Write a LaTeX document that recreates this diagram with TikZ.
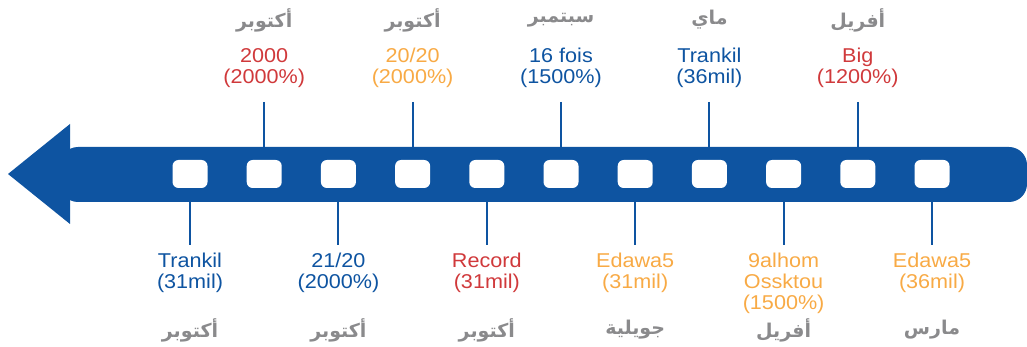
\documentclass[tikz,border=0pt]{standalone}
\usepackage{fontspec}
\setmainfont{Liberation Sans}
\newfontfamily\labfont[FakeStretch=1.08]{Liberation Sans}
\newfontfamily\arabicfont[Script=Arabic]{DejaVu Sans}
\TeXXeTstate=1
\definecolor{tlblue}{HTML}{0E54A1}
\definecolor{tlred}{HTML}{D0393B}
\definecolor{tlorange}{HTML}{F8AA45}
\definecolor{tlgray}{HTML}{8A8A8C}
\newcommand{\artxt}[1]{\beginR #1\endR}
\tikzset{
  slot/.style={fill=white, rounded corners=6pt, minimum width=35pt, minimum height=28pt, inner sep=0},
  tick/.style={tlblue, line width=2pt},
  lab/.style={align=center, inner sep=0, font=\labfont\fontsize{20}{21}\selectfont},
  month/.style={text=tlgray, inner sep=0, font=\arabicfont\bfseries\fontsize{19}{20}\selectfont},
}

\begin{document}
\begin{tikzpicture}[x=1pt,y=-1pt]
  \useasboundingbox (0,0) rectangle (1027,347);
  % arrow
  \fill[tlblue, rounded corners=18pt] (60,147) rectangle (1027,202);
  \fill[tlblue] (8,174) -- (70,124) -- (70,224) -- cycle;
  \coordinate (top) at (0,147);
  \coordinate (bot) at (0,202);
  \foreach \i in {1,...,11}
    \node[slot] (s\i) at ({190+74.2*(\i-1)},174) {};
  % ticks
  \foreach \i in {2,4,...,10} {
    \coordinate (t\i) at (s\i |- 0,102);
    \draw[tick] (t\i) -- (s\i |- top);
  }
  \foreach \i in {1,3,...,11} {
    \coordinate (t\i) at (s\i |- 0,245);
    \draw[tick] (s\i |- bot) -- (t\i);
  }
  % above
  \node[lab, text=tlred, anchor=south] (l2) at (t2 |- 0,88) {2000\\(2000\%)};
  \node[lab, text=tlorange, anchor=south] (l4) at (t4 |- 0,88) {20/20\\(2000\%)};
  \node[lab, text=tlblue, anchor=south] (l6) at (t6 |- 0,88) {16 fois\\(1500\%)};
  \node[lab, text=tlblue, anchor=south] (l8) at (t8 |- 0,88) {Trankil\\(36mil)};
  \node[lab, text=tlred, anchor=south] (l10) at (t10 |- 0,88) {Big\\(1200\%)};
  \node[month] (m2) at (l2 |- 0,20) {\artxt{أكتوبر}};
  \node[month] (m4) at (l4 |- 0,20) {\artxt{أكتوبر}};
  \node[month] (m6) at (l6 |- 0,20) {\artxt{سبتمبر}};
  \node[month] (m8) at (l8 |- 0,20) {\artxt{ماي}};
  \node[month] (m10) at (l10 |- 0,20) {\artxt{أفريل}};
  % below
  \node[lab, text=tlblue, anchor=north] (l1) at (t1 |- 0,253) {Trankil\\(31mil)};
  \node[lab, text=tlblue, anchor=north] (l3) at (t3 |- 0,253) {21/20\\(2000\%)};
  \node[lab, text=tlred, anchor=north] (l5) at (t5 |- 0,253) {Record\\(31mil)};
  \node[lab, text=tlorange, anchor=north] (l7) at (t7 |- 0,253) {Edawa5\\(31mil)};
  \node[lab, text=tlorange, anchor=north] (l9) at (t9 |- 0,253) {9alhom\\Ossktou\\(1500\%)};
  \node[lab, text=tlorange, anchor=north] (l11) at (t11 |- 0,253) {Edawa5\\(36mil)};
  \node[month] (m1) at (l1 |- 0,330) {\artxt{أكتوبر}};
  \node[month] (m3) at (l3 |- 0,330) {\artxt{أكتوبر}};
  \node[month] (m5) at (l5 |- 0,330) {\artxt{أكتوبر}};
  \node[month] (m7) at (l7 |- 0,330) {\artxt{جويلية}};
  \node[month] (m9) at (l9 |- 0,330) {\artxt{أفريل}};
  \node[month] (m11) at (l11 |- 0,330) {\artxt{مارس}};
\end{tikzpicture}
\end{document}
